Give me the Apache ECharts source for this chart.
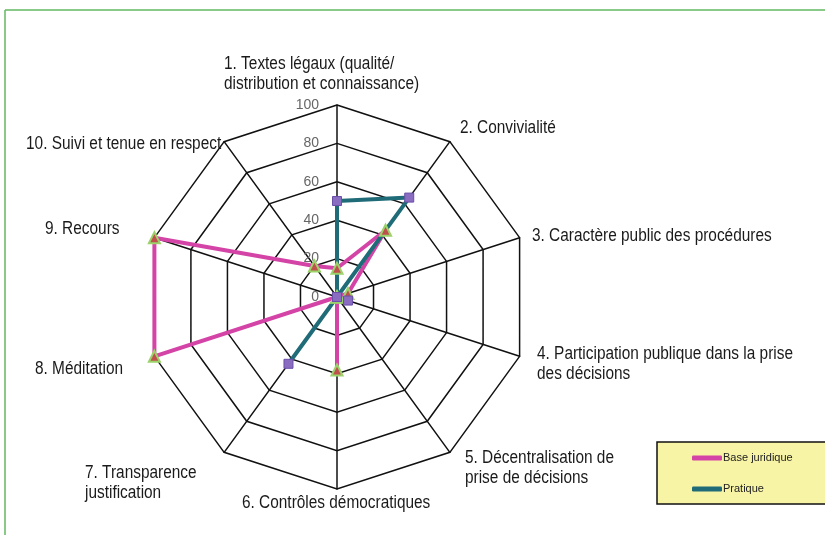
<!DOCTYPE html>
<html>
<head>
<meta charset="utf-8">
<script src="https://cdn.jsdelivr.net/npm/echarts@6/dist/echarts.min.js"></script>
<style>
  html, body { margin: 0; padding: 0; background: #fff; }
  #chart { width: 825px; height: 535px; }
</style>
</head>
<body>
<div id="chart"></div>
<script>
// axis names, clockwise from the top
var axisNames = [
  '1. Textes légaux (qualité/\ndistribution et connaissance)',
  '2. Convivialité',
  '3. Caractère public des procédures',
  '4. Participation publique dans la prise\ndes décisions',
  '5. Décentralisation de\nprise de décisions',
  '6. Contrôles démocratiques',
  '7. Transparence\njustification',
  '8. Méditation',
  '9. Recours',
  '10. Suivi et tenue en respect'
];
var baseJuridique = [15, 43, 6, 0, 0, 38, 0, 100, 100, 20];
var pratique = [50, 64, 0, 6, 0, 0, 43, 0, 0, 0];
var seriesNames = ['Base juridique', 'Pratique'];
var seriesColors = ['#d443a6', '#1f6b78'];

// where each axis name sits: left x, baseline of the first line
var namePos = [
  [224, 68], [460, 132], [532, 240], [537, 358], [465, 462],
  [242, 507], [85, 477], [35, 373], [45, 233], [26, 148]
];

var font = 'Liberation Sans, Arial, sans-serif';

// echarts goes counter-clockwise, so flip the order after the first one
function cw(arr) {
  return [arr[0]].concat(arr.slice(1).reverse());
}

var indicators = cw(axisNames).map(function (n, i) {
  var ind = { name: n, max: 100, min: 0 };
  if (i === 0) ind.axisLabel = { show: true };
  return ind;
});

var graphics = [
  { type: 'line', shape: { x1: 5, y1: 10, x2: 825, y2: 10 }, style: { stroke: '#62b862', lineWidth: 1.5 } },
  { type: 'line', shape: { x1: 5, y1: 10, x2: 5, y2: 535 }, style: { stroke: '#62b862', lineWidth: 1.5 } }
];
// narrow-looking names: squeeze a regular font sideways
axisNames.forEach(function (n, i) {
  graphics.push({
    type: 'text',
    x: namePos[i][0],
    y: namePos[i][1] - 14,
    scaleX: 0.88,
    style: {
      text: n,
      fontSize: 17.5,
      fontFamily: font,
      lineHeight: 20,
      fill: '#1a1a1a',
      align: 'left',
      verticalAlign: 'top'
    }
  });
});

var chart = echarts.init(document.getElementById('chart'));
chart.setOption({
  animation: false,
  textStyle: { fontFamily: font },
  graphic: graphics,
  legend: {
    data: seriesNames.map(function (n, i) {
      return { name: n, itemStyle: { color: seriesColors[i], borderWidth: 0 } };
    }),
    orient: 'vertical',
    left: 657,
    top: 442,
    padding: [9, 60, 8, 35],
    itemGap: 17,
    itemWidth: 30,
    itemHeight: 5,
    icon: 'roundRect',
    backgroundColor: '#f8f4a6',
    borderColor: '#111',
    borderWidth: 1.5,
    textStyle: { fontSize: 11, color: '#222', lineHeight: 14, padding: [0, 0, 0, -4] }
  },
  radar: {
    center: [337, 297],
    radius: 192,
    splitNumber: 5,
    shape: 'polygon',
    axisName: { show: false },
    axisLine: { lineStyle: { color: '#111', width: 1.5 } },
    splitLine: { lineStyle: { color: '#111', width: 1.5 } },
    splitArea: { show: false },
    axisTick: { show: false },
    axisLabel: { show: false, color: '#666', fontSize: 14, margin: 18 },
    indicator: indicators
  },
  series: [{
    type: 'radar',
    data: [
      {
        name: seriesNames[0],
        value: cw(baseJuridique),
        symbol: 'triangle',
        symbolSize: 11,
        lineStyle: { color: seriesColors[0], width: 4 },
        itemStyle: { color: '#c0504d', borderColor: '#9bd36a', borderWidth: 2 }
      },
      {
        name: seriesNames[1],
        value: cw(pratique),
        symbol: 'rect',
        symbolSize: 9,
        lineStyle: { color: seriesColors[1], width: 4 },
        itemStyle: { color: '#8a6cc0', borderColor: '#6a50a8', borderWidth: 1 }
      }
    ]
  }],
  color: seriesColors
});
</script>
</body>
</html>
